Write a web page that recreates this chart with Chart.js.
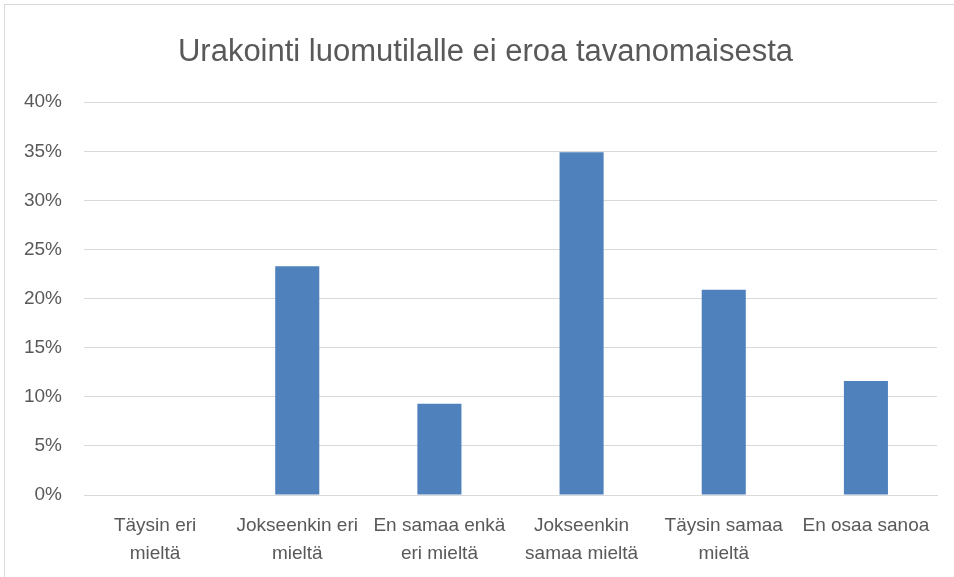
<!DOCTYPE html>
<html>
<head>
<meta charset="utf-8">
<title>Urakointi luomutilalle ei eroa tavanomaisesta</title>
<script src="https://cdn.jsdelivr.net/npm/chart.js@4"></script>
<style>
  html, body { margin: 0; padding: 0; background: #fff; overflow: hidden; }
  .frame { position: absolute; left: 4px; top: 4px; width: 970px; height: 600px; border: 1px solid #d9d9d9; }
  #chart { position: absolute; left: 0; top: 0; }
</style>
</head>
<body>
<div class="frame"></div>
<canvas id="chart" width="954" height="577"></canvas>
<script>
// ---- Data ----
const categories = [
  ['Täysin eri', 'mieltä'],
  ['Jokseenkin eri', 'mieltä'],
  ['En samaa enkä', 'eri mieltä'],
  ['Jokseenkin', 'samaa mieltä'],
  ['Täysin samaa', 'mieltä'],
  ['En osaa sanoa']
];
const shares = [0, 23.3, 9.3, 34.9, 20.9, 11.6];   // percent
const yMax  = 40;
const yStep = 5;

const FONT = "'Liberation Sans Narrow', 'Arial Narrow', 'Liberation Sans', Arial, sans-serif";

// nudge the title box so its centre sits a bit right, as in the original
const titleShift = {
  id: 'titleShift',
  afterLayout(chart) {
    if (chart.titleBlock) chart.titleBlock.left += 34;
  }
};

new Chart(document.getElementById('chart'), {
  type: 'bar',
  data: {
    labels: categories,
    datasets: [{
      data: shares,
      backgroundColor: '#4f81bd',
      categoryPercentage: 1,
      barPercentage: 0.31
    }]
  },
  options: {
    responsive: false,
    animation: false,
    layout: { padding: { left: 0, right: 17, top: 0, bottom: 0 } },
    plugins: {
      legend: { display: false },
      tooltip: { enabled: false },
      title: {
        display: true,
        text: 'Urakointi luomutilalle ei eroa tavanomaisesta',
        color: '#595959',
        font: { family: FONT, size: 31, weight: 'normal', lineHeight: 1.2 },
        padding: { top: 34, bottom: 31 }
      }
    },
    scales: {
      x: {
        grid: { display: false, drawTicks: false },
        border: { display: true, color: '#d9d9d9', width: 1 },
        ticks: {
          color: '#595959',
          font: { family: FONT, size: 19, lineHeight: 1.45 },
          padding: 17,
          maxRotation: 0,
          autoSkip: false
        },
        afterFit: s => { s.height = 82; }
      },
      y: {
        min: 0,
        max: yMax,
        grid: { color: '#d9d9d9', lineWidth: 1, drawTicks: false },
        border: { display: false },
        ticks: {
          stepSize: yStep,
          color: '#595959',
          font: { family: FONT, size: 19 },
          padding: 22,
          callback: v => v + '%'
        },
        afterFit: s => { s.width = 84; }
      }
    }
  },
  plugins: [titleShift]
});
</script>
</body>
</html>
